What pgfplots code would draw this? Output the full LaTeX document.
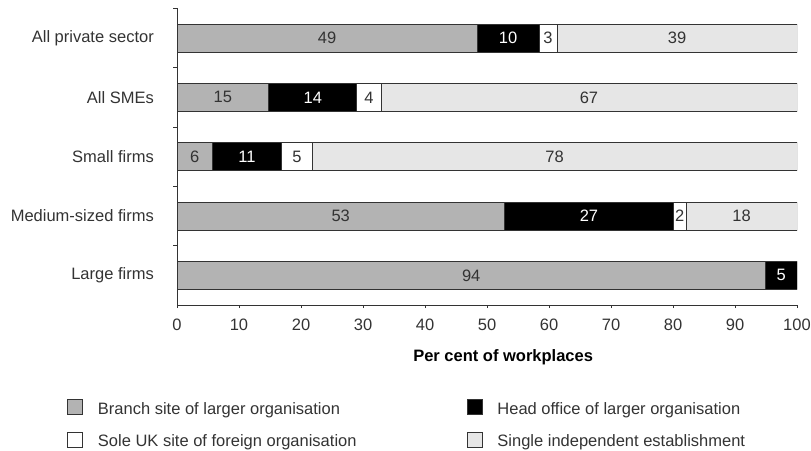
\documentclass[border=0pt]{standalone}
\usepackage{fontspec}
\setmainfont{Liberation Sans}
\usepackage{pgfplots}
\usepackage{pgfplotstable}
\pgfplotsset{compat=1.18}
\definecolor{segA}{HTML}{B3B3B3}
\definecolor{segD}{HTML}{E6E6E6}
\definecolor{edge}{HTML}{333333}
\definecolor{txt}{HTML}{333333}
\newcommand{\chartfont}{\fontsize{16.5bp}{19bp}\selectfont}

\pgfplotstableread{
y branch head sole single
4 48.4 10.0 2.9 38.7
3 14.8 14.2 3.9 67.1
2 5.7 11.2 4.9 78.2
1 52.8 27.3 2.0 17.9
0 94.9 5.1 0 0
}\datatable

\pgfplotstableread{
y x lab
4 24.2 49
3 7.4 15
2 2.85 6
1 26.4 53
0 47.45 94
}\labA
\pgfplotstableread{
y x lab
4 53.4 10
3 21.9 14
2 11.3 11
1 66.45 27
0 97.45 5
}\labB
\pgfplotstableread{
y x lab
4 59.85 3
3 30.95 4
2 19.35 5
1 81.1 2
}\labC
\pgfplotstableread{
y x lab
4 80.65 39
3 66.45 67
2 60.9 78
1 91.05 18
}\labD

\begin{document}
\begin{tikzpicture}
\path (0,0) rectangle (811bp,451bp);
\begin{axis}[
  scale only axis,
  width=620bp, height=296.6bp,
  at={(177bp,146bp)}, anchor=south west,
  xbar stacked, bar width=28bp,
  xmin=0, xmax=100, ymin=-0.5, ymax=4.5,
  axis x line*=bottom, axis y line*=left,
  axis line style={edge, line width=1bp},
  xtick={0,10,...,100},
  ytick={0,1,2,3,4},
  yticklabels={Large firms, Medium-sized firms, Small firms, All SMEs, All private sector},
  minor ytick={0.5,1.5,2.5,3.5,4.5},
  tick align=outside,
  major tick length=3bp, minor tick length=4bp,
  every major y tick/.style={draw=none},
  every tick/.style={edge, line width=1bp},
  tick label style={font=\chartfont, text=txt},
  /pgf/number format/assume math mode=true,
  yticklabel style={anchor=east, inner sep=0pt, xshift=-20bp},
  xticklabel style={anchor=north, inner sep=0pt, yshift=-11bp},
  xlabel={Per cent of workplaces},
  xlabel style={font=\chartfont\bfseries, text=black, at={(axis description cs:0.526,-0.176)}, anchor=center},
  legend columns=2,
  legend cell align=left,
  legend style={draw=none, fill=none, inner sep=0pt, outer sep=0pt,
    at={(axis description cs:-0.1774,-0.3185)}, anchor=north west,
    font=\chartfont, text=txt,
    nodes={inner sep=0pt, text height=12bp, text depth=3.5bp},
    column sep=15bp, row sep=14.5bp,
    /tikz/every even column/.append style={column sep=110bp}},
  legend image code/.code={\draw[#1, draw=edge, line width=0.9bp] (0bp,-5bp) rectangle (15bp,10bp);},
  every axis plot/.append style={draw=edge, line width=0.9bp},
]
\addplot[fill=segA] table[x=branch, y=y] {\datatable};
\addplot[fill=black] table[x=head, y=y] {\datatable};
\addplot[fill=white] table[x=sole, y=y] {\datatable};
\addplot[fill=segD] table[x=single, y=y] {\datatable};
\legend{Branch site of larger organisation, Head office of larger organisation, Sole UK site of foreign organisation, Single independent establishment}
\end{axis}
\begin{axis}[
  scale only axis,
  width=620bp, height=296.6bp,
  at={(177bp,146bp)}, anchor=south west,
  xmin=0, xmax=100, ymin=-0.5, ymax=4.5,
  hide axis,
  nodes near coords,
  point meta=explicit symbolic,
  every node near coord/.style={anchor=center, inner sep=0pt, font=\chartfont},
]
\addplot[draw=none, mark=none, nodes near coords style={text=txt}] table[x=x, y=y, meta=lab] {\labA};
\addplot[draw=none, mark=none, nodes near coords style={text=white}] table[x=x, y=y, meta=lab] {\labB};
\addplot[draw=none, mark=none, nodes near coords style={text=txt}] table[x=x, y=y, meta=lab] {\labC};
\addplot[draw=none, mark=none, nodes near coords style={text=txt}] table[x=x, y=y, meta=lab] {\labD};
\end{axis}
\end{tikzpicture}
\end{document}
